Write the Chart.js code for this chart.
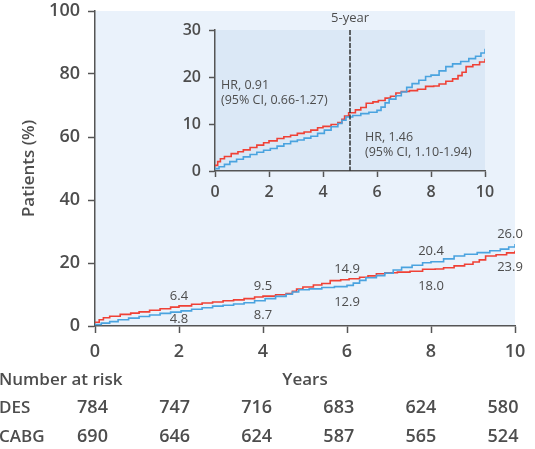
<!DOCTYPE html>
<html>
<head>
<meta charset="utf-8">
<script src="https://cdn.jsdelivr.net/npm/chart.js@4.4.1/dist/chart.umd.min.js"></script>
<style>
  html, body { margin: 0; padding: 0; background: #fff; }
  #wrap { position: relative; width: 535px; height: 449px; overflow: hidden; }
  #main { position: absolute; left: 0; top: 0; }
  #inset { position: absolute; left: 160px; top: 0; }
</style>
</head>
<body>
<div id="wrap">
  <canvas id="main" width="535" height="449"></canvas>
  <canvas id="inset" width="340" height="205"></canvas>
</div>
<script>
// cumulative event curves (years, %)
const desTimes  = [0, 0.15, 0.35, 0.55, 0.8, 1.05, 1.3, 1.55, 1.8, 2.05, 2.3, 2.55, 2.8, 3.05, 3.3, 3.55, 3.8, 4.05, 4.3, 4.55, 4.7, 4.85, 5.1, 5.4, 5.7, 6.0, 6.15, 6.3, 6.45, 6.7, 6.9, 7.1, 7.3, 7.55, 7.8, 8.0, 8.3, 8.55, 8.8, 9.1, 9.4, 9.65, 9.85, 10];
const desValues = [0.5, 0.9, 1.4, 2.0, 2.5, 3.0, 3.5, 4.0, 4.4, 4.8, 5.3, 5.8, 6.3, 6.6, 7.0, 7.4, 8.0, 8.7, 9.4, 10.1, 10.8, 11.5, 11.8, 12.2, 12.5, 12.9, 13.6, 14.5, 15.3, 16.0, 16.8, 17.8, 18.6, 19.3, 20.1, 20.4, 21.3, 22.2, 22.8, 23.3, 23.9, 24.4, 25.1, 26.0];
const cabgTimes  = [0, 0.1, 0.2, 0.35, 0.6, 0.85, 1.05, 1.3, 1.55, 1.8, 2.0, 2.3, 2.55, 2.8, 3.05, 3.3, 3.55, 3.8, 4.0, 4.3, 4.55, 4.7, 4.8, 4.95, 5.2, 5.4, 5.6, 5.85, 6.05, 6.3, 6.5, 6.7, 6.9, 7.2, 7.5, 7.8, 8.1, 8.3, 8.55, 8.8, 9.0, 9.15, 9.3, 9.55, 9.8, 10];
const cabgValues = [1.2, 2.0, 2.6, 3.1, 3.7, 4.1, 4.5, 5.0, 5.5, 6.0, 6.4, 6.9, 7.3, 7.6, 8.0, 8.3, 8.7, 9.2, 9.5, 9.9, 10.3, 11.0, 11.7, 12.4, 13.0, 13.5, 14.4, 14.7, 15.0, 15.5, 15.9, 16.6, 16.9, 17.1, 17.4, 18.0, 18.1, 18.5, 19.1, 19.6, 20.3, 21.0, 22.2, 22.6, 23.2, 23.9];

// labelled rates
const markYears = [2, 4, 6, 8, 10];
const desMarks  = [4.8, 8.7, 12.9, 20.4, 26.0];
const cabgMarks = [6.4, 9.5, 14.9, 18.0, 23.9];

// number at risk
const riskYears  = [0, 2, 4, 6, 8, 10];
const desAtRisk  = [784, 747, 716, 683, 624, 580];
const cabgAtRisk = [690, 646, 624, 587, 565, 524];

const xTicks = [0, 2, 4, 6, 8, 10];
const yTicksMain  = [0, 20, 40, 60, 80, 100];
const yTicksInset = [0, 10, 20, 30];

const FONT = '"Open Sans", sans-serif';
const TEXT = '#4d4d4d';
const AXIS = '#555';
const BLUE = '#4aa3df';
const RED = '#ef4136';

function pts(times, values) {
  return times.map((t, i) => ({ x: t, y: values[i] }));
}

function curves(width) {
  return [
    { data: pts(desTimes, desValues), borderColor: BLUE, borderWidth: width, stepped: true, pointRadius: 0 },
    { data: pts(cabgTimes, cabgValues), borderColor: RED, borderWidth: width, stepped: true, pointRadius: 0 }
  ];
}

const plotBg = {
  id: 'plotBg',
  beforeDraw(chart, args, opts) {
    const { ctx, chartArea: a } = chart;
    ctx.save();
    ctx.fillStyle = opts.color;
    ctx.fillRect(a.left, a.top, a.right - a.left, a.bottom - a.top);
    ctx.restore();
  }
};

function axis(ticks, min, max, size, tickLen, pad, fitFn, title) {
  return {
    type: 'linear', min: min, max: max,
    afterBuildTicks: s => { s.ticks = ticks.map(v => ({ value: v })); },
    afterFit: s => {
      fitFn(s);
      // let the layout padding alone decide where the plot area sits
      s.paddingTop = 0; s.paddingBottom = 0; s.paddingLeft = 0; s.paddingRight = 0;
    },
    grid: { drawOnChartArea: false, drawTicks: true, tickLength: tickLen, tickColor: AXIS, tickWidth: 1.5 },
    border: { display: true, color: AXIS, width: 1.5 },
    ticks: { font: { family: FONT, size: size, weight: '600' }, color: TEXT, padding: pad, maxRotation: 0 },
    title: title || { display: false }
  };
}

// main chart
const mainExtras = {
  id: 'mainExtras',
  afterDraw(chart) {
    const { ctx, chartArea, scales: { x, y } } = chart;
    ctx.save();
    ctx.fillStyle = TEXT;
    ctx.textBaseline = 'middle';
    ctx.textAlign = 'center';
    ctx.font = '13px ' + FONT;
    markYears.forEach((yr, i) => {
      const hi = Math.max(desMarks[i], cabgMarks[i]);
      const lo = Math.min(desMarks[i], cabgMarks[i]);
      const px = Math.min(x.getPixelForValue(yr), chartArea.right - 5);
      ctx.fillText(hi.toFixed(1), px, y.getPixelForValue(hi) - 10);
      ctx.fillText(lo.toFixed(1), px, Math.min(y.getPixelForValue(lo) + 17, chartArea.bottom - 7));
    });

    ctx.textAlign = 'left';
    ctx.font = '600 17px ' + FONT;
    ctx.fillText('Number at risk', -1, 380);
    ctx.fillText('DES', -1, 408);
    ctx.fillText('CABG', -1, 437);
    ctx.textAlign = 'center';
    ctx.font = '600 18px ' + FONT;
    riskYears.forEach((yr, i) => {
      const px = x.getPixelForValue(yr) - 2.5 - yr * 0.95;
      ctx.fillText(desAtRisk[i], px, 408);
      ctx.fillText(cabgAtRisk[i], px, 437);
    });
    ctx.restore();
  }
};

new Chart(document.getElementById('main'), {
  type: 'line',
  data: { datasets: curves(1.6) },
  plugins: [plotBg, mainExtras],
  options: {
    responsive: false,
    animation: false,
    layout: { padding: { left: 0, right: 20, top: 11, bottom: 0 } },
    plugins: { legend: { display: false }, tooltip: { enabled: false }, plotBg: { color: '#eaf2fb' } },
    scales: {
      x: axis(xTicks, 0, 10, 18, 7, 8, s => { s.height = 123; },
        { display: true, text: 'Years', color: TEXT, font: { family: FONT, size: 17, weight: '600' }, padding: { top: 0, bottom: 59 } }),
      y: axis(yTicksMain, 0, 100, 18, 7, 8, s => { s.width = 95; },
        { display: true, text: 'Patients (%)', color: TEXT, font: { family: FONT, size: 17, weight: '600' }, padding: { top: 19, bottom: 0 } })
    }
  }
});

// inset
const insetExtras = {
  id: 'insetExtras',
  afterDraw(chart) {
    const { ctx, chartArea, scales: { x } } = chart;
    const px = x.getPixelForValue(5);
    ctx.save();
    ctx.strokeStyle = '#333';
    ctx.lineWidth = 1.5;
    ctx.setLineDash([5, 1.5]);
    ctx.beginPath();
    ctx.moveTo(px, chartArea.top);
    ctx.lineTo(px, chartArea.bottom);
    ctx.stroke();
    ctx.setLineDash([]);

    ctx.fillStyle = TEXT;
    ctx.textBaseline = 'middle';
    ctx.textAlign = 'center';
    ctx.font = '13px ' + FONT;
    ctx.fillText('5-year', px, 18);
    ctx.textAlign = 'left';
    ctx.font = '12.5px ' + FONT;
    ctx.fillText('HR, 0.91', 61, 85);
    ctx.fillText('(95% CI, 0.66-1.27)', 61, 100);
    ctx.fillText('HR, 1.46', 205, 137);
    ctx.fillText('(95% CI, 1.10-1.94)', 205, 152);
    ctx.restore();
  }
};

new Chart(document.getElementById('inset'), {
  type: 'line',
  data: { datasets: curves(1.6) },
  plugins: [plotBg, insetExtras],
  options: {
    responsive: false,
    animation: false,
    layout: { padding: { left: 0, right: 15, top: 30, bottom: 0 } },
    plugins: { legend: { display: false }, tooltip: { enabled: false }, plotBg: { color: '#dbe8f6' } },
    scales: {
      x: axis(xTicks, 0, 10, 16, 6, 6, s => { s.height = 34; }),
      y: axis(yTicksInset, 0, 30, 16, 6, 8, s => { s.width = 55; })
    }
  }
});
</script>
</body>
</html>
